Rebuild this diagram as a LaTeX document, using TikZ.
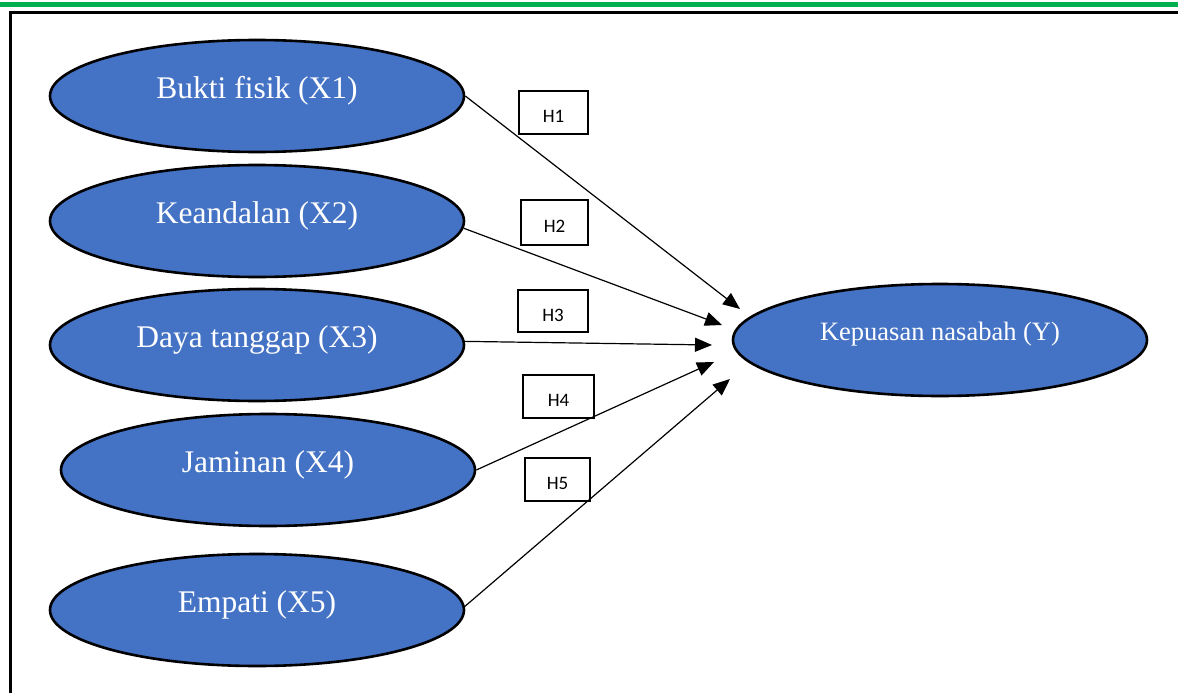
\documentclass[tikz,border=0pt]{standalone}
\usepackage{fontspec}
\setmainfont{Liberation Serif}
\newfontfamily\hfont{Carlito}
\usetikzlibrary{shapes.geometric,arrows.meta}
\definecolor{fillblue}{HTML}{4472C4}
\definecolor{topgreen}{HTML}{00B050}
\tikzset{
  var/.style={ellipse,draw=black,line width=2.6pt,fill=fillblue,text=white,
    minimum width=414pt,minimum height=112pt,inner sep=0pt,
    font=\fontsize{31.5}{34}\selectfont,text height=22pt,text depth=17pt},
  dep/.style={var,font=\fontsize{26.5}{30}\selectfont,text height=18pt,text depth=18pt},
  hbox/.style={draw=black,line width=1.6pt,inner sep=0pt,font=\hfont\fontsize{19}{20}\selectfont,
    text height=20pt,text depth=0pt,minimum height=43pt},
  link/.style={line width=1.2pt,-{Triangle[length=17pt,width=14pt]}}
}
\begin{document}
\begin{tikzpicture}[x=1pt,y=-1pt]
\useasboundingbox (0,0) rectangle (1178,693);
\draw[topgreen,line width=4.5pt] (0,4.5) -- (1178,4.5);
\draw[black,line width=3pt] (10,693) -- (10,13) -- (1178,13);

\node[var] (x1) at (257,96) {Bukti fisik (X1)};
\node[var] (x2) at (257,221) {Keandalan (X2)};
\node[var] (x3) at (257,345) {Daya tanggap (X3)};
\node[var] (x4) at (268,470) {Jaminan (X4)};
\node[var] (x5) at (257,610) {Empati (X5)};
\node[dep] (y) at (940,340) {Kepuasan nasabah (Y)};

\node[hbox,line width=2.4pt,minimum width=69pt] (h1) at (553.5,112.5) {H1};
\node[hbox,minimum width=67pt,minimum height=45pt] (h2) at (554.5,222.5) {H2};
\node[hbox,minimum width=70pt,minimum height=42pt] (h3) at (553,311) {H3};
\node[hbox,minimum width=71pt] (h4) at (558.5,396.5) {H4};
\node[hbox,minimum width=65pt] (h5) at (557.5,479.5) {H5};

\coordinate (c1) at (740,309);
\coordinate (c2) at (722,325);
\coordinate (c3) at (712,345);
\coordinate (c4) at (714,362);
\coordinate (c5) at (730,379);

\draw[link] (x1.east) -- (c1);
\draw[link] (x2.-2) -- (c2);
\draw[link] (x3.1) -- (c3);
\draw[link] (x4.east) -- (c4);
\draw[link] (x5.1) -- (c5);
\end{tikzpicture}
\end{document}
